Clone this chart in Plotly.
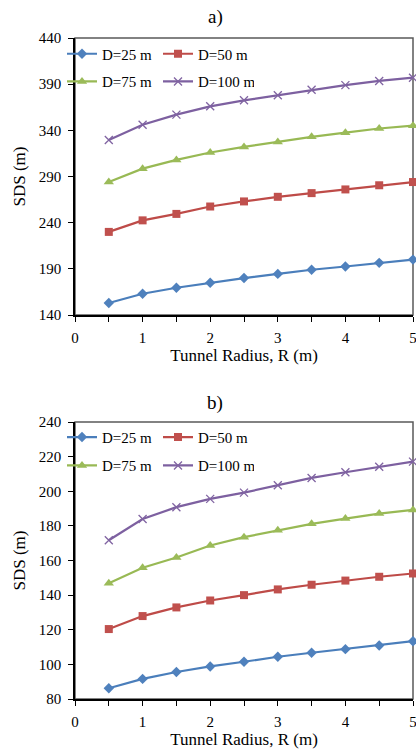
import plotly.graph_objects as go

R = [0.5, 1, 1.5, 2, 2.5, 3, 3.5, 4, 4.5, 5]
series_names = ["D=25 m", "D=50 m", "D=75 m", "D=100 m"]

a_d25 = [153, 163, 169.5, 175, 180, 184.5, 189, 192.5, 196.5, 200]
a_d50 = [230, 242.5, 249.5, 257.5, 263, 268, 272, 276, 280.5, 284]
a_d75 = [284, 298.5, 308, 316, 322, 327.5, 333, 337.5, 342, 345]
a_d100 = [329.5, 346, 357, 366, 372.5, 378, 384, 389, 393.5, 397]

b_d25 = [86.2, 91.6, 95.6, 98.8, 101.5, 104.4, 106.7, 108.8, 110.9, 113.4]
b_d50 = [120.4, 127.9, 132.9, 136.9, 140, 143.3, 146, 148.4, 150.6, 152.5]
b_d75 = [146.9, 155.8, 161.7, 168.7, 173.5, 177.5, 181.2, 184.2, 187.1, 189.2]
b_d100 = [171.7, 184, 190.8, 195.6, 199.2, 203.5, 207.7, 211, 214.2, 217.1]

x_ticks = [0, 1, 2, 3, 4, 5]
a_yticks = [140, 190, 240, 290, 340, 390, 440]
b_yticks = [80, 100, 120, 140, 160, 180, 200, 220, 240]

line_colors = ["#4A7EBB", "#BE4B48", "#98B954", "#7D60A0"]
marker_colors = ["#4F81BD", "#C0504D", "#9BBB59", "#8064A2"]
symbols = ["diamond", "square", "triangle-up", "x-thin"]
sizes = [8, 8, 9, 8]

FONT = "Liberation Serif"

fig = go.Figure()

def add_panel(data, xa, ya, legs):
    for i, (vals, name) in enumerate(zip(data, series_names)):
        if symbols[i] == "x-thin":
            mk = dict(symbol="x-thin", size=sizes[i], color=marker_colors[i],
                      line=dict(color=marker_colors[i], width=1.3))
        else:
            mk = dict(symbol=symbols[i], size=sizes[i], color=marker_colors[i],
                      line=dict(width=0))
        fig.add_trace(go.Scatter(
            x=R, y=vals, name=name, mode="lines+markers",
            line=dict(color=line_colors[i], width=2.2),
            marker=mk, xaxis=xa, yaxis=ya, cliponaxis=False,
            legend=legs[0] if i < 2 else legs[1],
        ))

add_panel([a_d25, a_d50, a_d75, a_d100], "x", "y", ["legend", "legend2"])
add_panel([b_d25, b_d50, b_d75, b_d100], "x2", "y2", ["legend3", "legend4"])

W, H = 416, 751
L, Rm, T, B = 75, 3, 38, 52
ph = H - T - B
pw = W - L - Rm

def py(p):
    return (H - B - p) / ph

def px(p):
    return (p - L) / pw

a_dom = [py(315), 1.0]
b_dom = [0.0, py(422)]

tickfont = dict(family=FONT, size=15, color="#000000")
titlefont = dict(family=FONT, size=17, color="#000000")

xcommon = dict(range=[0, 5], tickvals=x_ticks, ticks="outside", ticklen=5,
               tickcolor="#000000", tickwidth=1.2, showline=True, linecolor="#000000",
               linewidth=1.5, showgrid=False, zeroline=False, tickfont=tickfont,
               ticklabelstandoff=3, ticklabeloverflow="allow",
               minor=dict(dtick=0.5, tick0=0, ticks="outside", ticklen=5,
                          tickcolor="#000000", tickwidth=1.2, showgrid=False),
               title=dict(text="Tunnel Radius, R (m)", font=titlefont, standoff=4))
ycommon = dict(ticks="outside", ticklen=5, tickcolor="#000000", tickwidth=1.2,
               showline=True, linecolor="#000000", linewidth=1.5, showgrid=False,
               zeroline=False, tickfont=tickfont, ticklabelstandoff=4,
               ticklabeloverflow="allow",
               title=dict(text="SDS (m)", font=titlefont, standoff=9))

legcommon = dict(orientation="h", xanchor="left", yanchor="middle",
                 font=dict(family=FONT, size=15, color="#000000"),
                 bgcolor="rgba(0,0,0,0)", entrywidth=51, entrywidthmode="pixels",
                 itemwidth=30, tracegroupgap=0)

fig.update_layout(
    width=W, height=H,
    margin=dict(l=L, r=Rm, t=T, b=B, autoexpand=False),
    paper_bgcolor="white", plot_bgcolor="white",
    font=dict(family=FONT, color="#000000"),
    xaxis=dict(domain=[0, 1], anchor="y", **xcommon),
    yaxis=dict(domain=a_dom, anchor="x", range=[140, 440], tickvals=a_yticks, **ycommon),
    xaxis2=dict(domain=[0, 1], anchor="y2", **xcommon),
    yaxis2=dict(domain=b_dom, anchor="x2", range=[80, 240], tickvals=b_yticks, **ycommon),
    legend=dict(x=px(62), y=py(54), **legcommon),
    legend2=dict(x=px(62), y=py(81.7), **legcommon),
    legend3=dict(x=px(62), y=py(437.3), **legcommon),
    legend4=dict(x=px(62), y=py(465.7), **legcommon),
    showlegend=True,
    annotations=[
        dict(text="a)", x=px(215), y=py(17), xref="paper", yref="paper",
             showarrow=False, font=dict(family=FONT, size=19, color="#000000"),
             xanchor="center", yanchor="middle"),
        dict(text="b)", x=px(215), y=py(403), xref="paper", yref="paper",
             showarrow=False, font=dict(family=FONT, size=19, color="#000000"),
             xanchor="center", yanchor="middle"),
    ],
    shapes=[
        dict(type="rect", xref="x domain", yref="y domain", x0=0, x1=1, y0=0, y1=1,
             line=dict(color="#595959", width=1.5), layer="below"),
        dict(type="rect", xref="x2 domain", yref="y2 domain", x0=0, x1=1, y0=0, y1=1,
             line=dict(color="#595959", width=1.5), layer="below"),
    ],
)

fig.write_html(
    "out.html",
    config={"displayModeBar": False},
    post_script="document.body.style.margin='0';document.body.style.overflow='hidden';",
)
